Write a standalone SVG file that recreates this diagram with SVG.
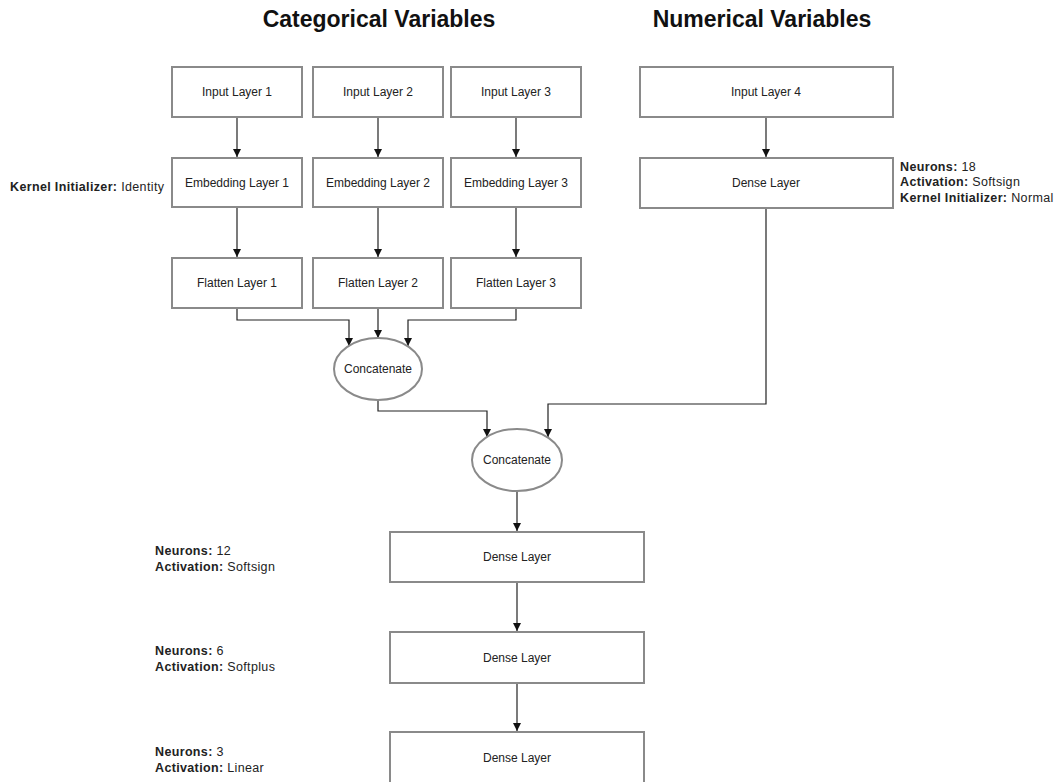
<svg xmlns="http://www.w3.org/2000/svg" width="1061" height="782" viewBox="0 0 1061 782">
<style>
.box{fill:#fff;stroke:#8a8a8a;stroke-width:2}
.lbl{font-family:"Liberation Sans",Arial,sans-serif;font-size:12px;fill:#222;text-anchor:middle}
.title{font-family:"Liberation Sans",Arial,sans-serif;font-size:23px;font-weight:bold;fill:#111;text-anchor:middle}
.ann{font-family:"Liberation Sans",Arial,sans-serif;font-size:12.5px;fill:#222;letter-spacing:0.35px}
.b{font-weight:bold}
.con{fill:none;stroke:#222;stroke-width:1.2}
</style>
<defs>
<marker id="arr" markerUnits="userSpaceOnUse" markerWidth="10" markerHeight="10" refX="8" refY="4" orient="auto">
<path d="M0,0 L8,4 L0,8 Z" fill="#111"/>
</marker>
</defs>
<rect width="1061" height="782" fill="#fff"/>
<text class="title" x="379" y="27">Categorical Variables</text>
<text class="title" x="762" y="27">Numerical Variables</text>

<g id="connectors">
<path class="con" d="M237 117V157" marker-end="url(#arr)"/>
<path class="con" d="M378 117V157" marker-end="url(#arr)"/>
<path class="con" d="M516 117V157" marker-end="url(#arr)"/>
<path class="con" d="M766 117V157" marker-end="url(#arr)"/>
<path class="con" d="M237 207V257" marker-end="url(#arr)"/>
<path class="con" d="M378 207V257" marker-end="url(#arr)"/>
<path class="con" d="M516 207V257" marker-end="url(#arr)"/>
<path class="con" d="M237 308V320H349V346" marker-end="url(#arr)"/>
<path class="con" d="M378 308V338" marker-end="url(#arr)"/>
<path class="con" d="M516 308V320H408V346" marker-end="url(#arr)"/>
<path class="con" d="M378 400V411H487V437" marker-end="url(#arr)"/>
<path class="con" d="M766 208V404H548V437" marker-end="url(#arr)"/>
<path class="con" d="M517 491V531" marker-end="url(#arr)"/>
<path class="con" d="M517 582V631" marker-end="url(#arr)"/>
<path class="con" d="M517 683V731" marker-end="url(#arr)"/>
</g>

<g id="input1"><rect class="box" x="172" y="67" width="130" height="50"/><text class="lbl" x="237" y="96">Input Layer 1</text></g>
<g id="input2"><rect class="box" x="313" y="67" width="130" height="50"/><text class="lbl" x="378" y="96">Input Layer 2</text></g>
<g id="input3"><rect class="box" x="451" y="67" width="130" height="50"/><text class="lbl" x="516" y="96">Input Layer 3</text></g>
<g id="input4"><rect class="box" x="640" y="67" width="253" height="50"/><text class="lbl" x="766" y="96">Input Layer 4</text></g>

<g id="embed1"><rect class="box" x="172" y="158" width="130" height="49"/><text class="lbl" x="237" y="187">Embedding Layer 1</text></g>
<g id="embed2"><rect class="box" x="313" y="158" width="130" height="49"/><text class="lbl" x="378" y="187">Embedding Layer 2</text></g>
<g id="embed3"><rect class="box" x="451" y="158" width="130" height="49"/><text class="lbl" x="516" y="187">Embedding Layer 3</text></g>
<g id="dense0"><rect class="box" x="640" y="158" width="253" height="50"/><text class="lbl" x="766" y="187">Dense Layer</text></g>

<g id="flatten1"><rect class="box" x="172" y="258" width="130" height="50"/><text class="lbl" x="237" y="287">Flatten Layer 1</text></g>
<g id="flatten2"><rect class="box" x="313" y="258" width="130" height="50"/><text class="lbl" x="378" y="287">Flatten Layer 2</text></g>
<g id="flatten3"><rect class="box" x="451" y="258" width="130" height="50"/><text class="lbl" x="516" y="287">Flatten Layer 3</text></g>

<g id="concat1"><ellipse class="box" cx="378" cy="369" rx="44" ry="31"/><text class="lbl" x="378" y="373">Concatenate</text></g>
<g id="concat2"><ellipse class="box" cx="517" cy="460" rx="45" ry="31"/><text class="lbl" x="517" y="464">Concatenate</text></g>

<g id="dense1"><rect class="box" x="390" y="532" width="254" height="50"/><text class="lbl" x="517" y="561">Dense Layer</text></g>
<g id="dense2"><rect class="box" x="390" y="632" width="254" height="51"/><text class="lbl" x="517" y="662">Dense Layer</text></g>
<g id="dense3"><rect class="box" x="390" y="732" width="254" height="52"/><text class="lbl" x="517" y="762">Dense Layer</text></g>

<g id="ann-embed"><text class="ann" x="10" y="191"><tspan class="b">Kernel Initializer:</tspan> Identity</text></g>
<g id="ann-dense0">
<text class="ann" x="900" y="171"><tspan class="b">Neurons:</tspan> 18</text>
<text class="ann" x="900" y="186"><tspan class="b">Activation:</tspan> Softsign</text>
<text class="ann" x="900" y="202"><tspan class="b">Kernel Initializer:</tspan> Normal</text>
</g>
<g id="ann-dense1">
<text class="ann" x="155" y="555"><tspan class="b">Neurons:</tspan> 12</text>
<text class="ann" x="155" y="571"><tspan class="b">Activation:</tspan> Softsign</text>
</g>
<g id="ann-dense2">
<text class="ann" x="155" y="655"><tspan class="b">Neurons:</tspan> 6</text>
<text class="ann" x="155" y="671"><tspan class="b">Activation:</tspan> Softplus</text>
</g>
<g id="ann-dense3">
<text class="ann" x="155" y="756"><tspan class="b">Neurons:</tspan> 3</text>
<text class="ann" x="155" y="772"><tspan class="b">Activation:</tspan> Linear</text>
</g>
</svg>
